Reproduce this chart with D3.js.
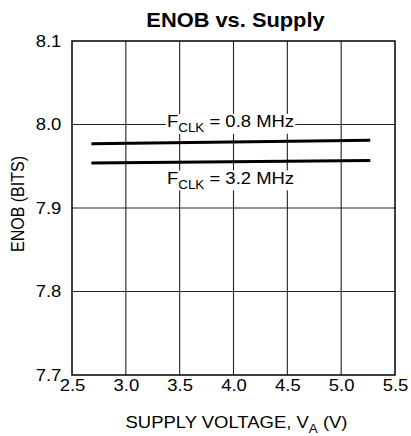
<!DOCTYPE html>
<html><head><meta charset="utf-8">
<script src="https://cdn.jsdelivr.net/npm/d3@7"></script>
<style>body{margin:0;background:#fff}text{font-family:"Liberation Sans",Arial,sans-serif}</style>
</head><body>
<svg id="c" width="411" height="436"></svg>
<script>
const xTicks = [2.5, 3.0, 3.5, 4.0, 4.5, 5.0, 5.5];
const yTicks = [7.7, 7.8, 7.9, 8.0, 8.1];
const voltage = [2.68, 5.27];
const enob08 = [7.977, 7.981];
const enob32 = [7.954, 7.957];
const seriesLabels = ["0.8 MHz", "3.2 MHz"];

const FONT = "Liberation Sans, Arial, sans-serif";
const SX = 1.12; // horizontal stretch of the original artwork
const FS = 16.5;
const svg = d3.select("#c");
const m = {l: 72, r: 395, t: 41, b: 375};
const x = d3.scaleLinear().domain([2.5, 5.5]).range([m.l, m.r]);
const y = d3.scaleLinear().domain([7.7, 8.1]).range([m.b, m.t]);

// grid
svg.append("g").selectAll("line").data(xTicks.slice(1, -1)).join("line")
  .attr("x1", d => x(d)).attr("x2", d => x(d)).attr("y1", m.t).attr("y2", m.b)
  .attr("stroke", "#222").attr("stroke-width", 1.1);
svg.append("g").selectAll("line").data(yTicks.slice(1, -1)).join("line")
  .attr("y1", d => y(d)).attr("y2", d => y(d)).attr("x1", m.l).attr("x2", m.r)
  .attr("stroke", "#222").attr("stroke-width", 1.1);
svg.append("rect").attr("x", m.l).attr("y", m.t).attr("width", m.r - m.l).attr("height", m.b - m.t)
  .attr("fill", "none").attr("stroke", "#000").attr("stroke-width", 1.5);

// axes labels
const xAxis = d3.axisBottom(x).tickValues(xTicks).tickFormat(d3.format(".1f")).tickSize(0).tickPadding(4);
const gx = svg.append("g").attr("transform", `translate(0,${m.b})`).call(xAxis)
  .attr("font-size", FS).attr("font-family", FONT);
gx.select(".domain").remove();
gx.selectAll("text").attr("fill", "#000").attr("transform", `scale(${SX},1)`);
const yAxis = d3.axisLeft(y).tickValues(yTicks).tickFormat(d3.format(".1f")).tickSize(0).tickPadding(9.5);
const gy = svg.append("g").attr("transform", `translate(${m.l},0)`).call(yAxis)
  .attr("font-size", FS).attr("font-family", FONT);
gy.select(".domain").remove();
gy.selectAll("text").attr("fill", "#000").attr("transform", `scale(${SX},1)`);

// data lines
const line = d3.line().x(d => x(d[0])).y(d => y(d[1]));
[enob08, enob32].forEach(s => {
  svg.append("path").datum(voltage.map((v, i) => [v, s[i]])).attr("d", line)
    .attr("fill", "none").attr("stroke", "#000").attr("stroke-width", 3);
});

// series labels with white background
function fclk(cx, by, val) {
  const g = svg.append("g").attr("transform", `translate(${cx},${by}) scale(${SX},1)`);
  const bg = g.append("rect").attr("fill", "#fff");
  const t = g.append("text").attr("font-size", FS).attr("text-anchor", "middle");
  t.append("tspan").text("F");
  t.append("tspan").text("CLK").attr("font-size", 12).attr("dy", 5);
  t.append("tspan").text(" = " + val).attr("dy", -5);
  const bb = t.node().getBBox();
  bg.attr("x", bb.x - 1).attr("y", bb.y + 2).attr("width", bb.width + 2).attr("height", bb.height - 3);
}
fclk(230.5, 127, seriesLabels[0]);
fclk(230.5, 183.5, seriesLabels[1]);

// title
svg.append("text").attr("transform", `translate(235.5,26.5) scale(${SX},1)`).attr("text-anchor", "middle")
  .attr("font-size", 19.5).attr("font-weight", "bold").text("ENOB vs. Supply");
// y title
svg.append("text").attr("transform", `translate(24,204) rotate(-90) scale(1,${SX})`).attr("text-anchor", "middle")
  .attr("font-size", 16).text("ENOB (BITS)");
// x title
const xt = svg.append("text").attr("transform", `translate(236.5,428) scale(${SX},1)`).attr("text-anchor", "middle").attr("font-size", FS);
xt.append("tspan").text("SUPPLY VOLTAGE, V");
xt.append("tspan").text("A").attr("font-size", 12).attr("dy", 5);
xt.append("tspan").text(" (V)").attr("dy", -5);
</script>
</body></html>
